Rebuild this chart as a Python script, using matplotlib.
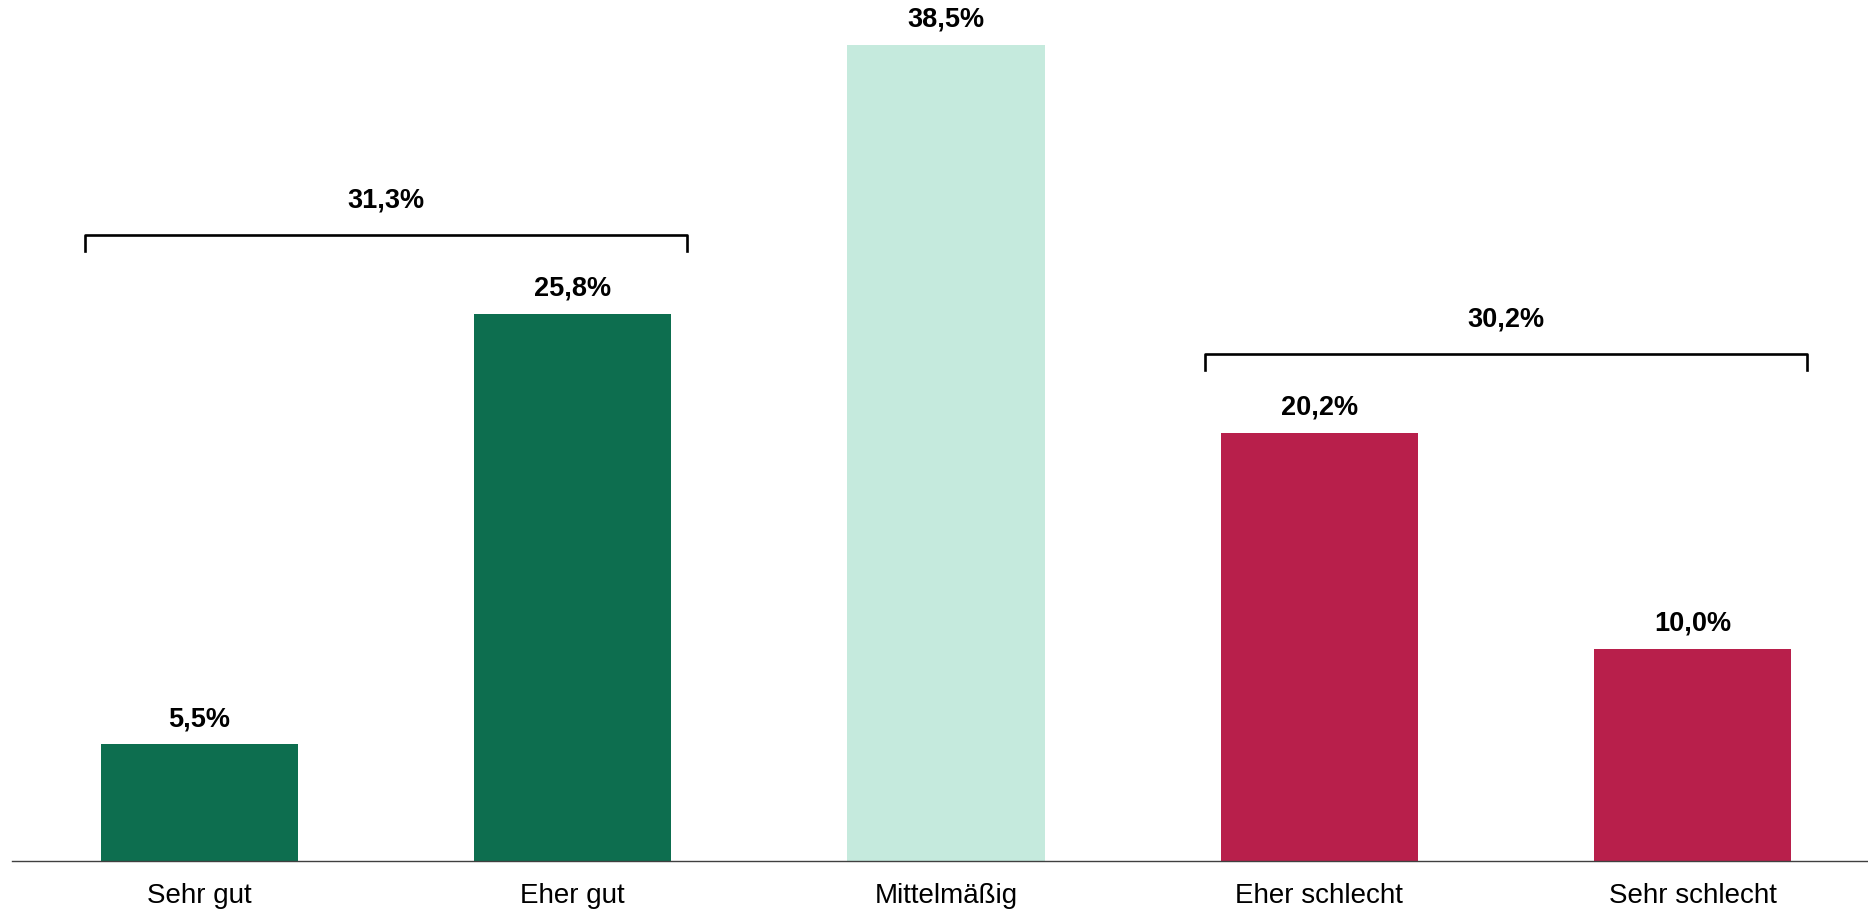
import matplotlib
matplotlib.use("Agg")
import matplotlib.pyplot as plt

plt.rcParams['font.family'] = ['Liberation Sans', 'DejaVu Sans']

categories = ["Sehr gut", "Eher gut", "Mittelmäßig", "Eher schlecht", "Sehr schlecht"]
values = [5.5, 25.8, 38.5, 20.2, 10.0]
value_labels = ["5,5%", "25,8%", "38,5%", "20,2%", "10,0%"]
bar_colors = ["#0d6e4f", "#0d6e4f", "#c5eadd", "#b81f4b", "#b81f4b"]

# grouped totals shown above brackets: (first index, last index, label)
groups = [(0, 1, "31,3%"), (3, 4, "30,2%")]

fig = plt.figure(figsize=(18.68, 9.14), dpi=100)
ax = fig.add_axes([12 / 1868, 0.058, 1 - 12 / 1868, 0.942])

x = list(range(len(categories)))
bar_width = 0.528
ax.bar(x, values, width=bar_width, color=bar_colors, zorder=2)

for xi, v, lab in zip(x, values, value_labels):
    ax.annotate(lab, (xi, v), xytext=(0, 18), textcoords="offset points",
                ha="center", va="center", fontsize=19.5, fontweight="bold")

for i0, i1, lab in groups:
    top = max(values[i0:i1 + 1]) + 3.7
    drop = 0.75
    x0 = x[i0] - 0.306
    x1 = x[i1] + 0.306
    ax.plot([x0, x0, x1, x1], [top - drop, top, top, top - drop],
            color="black", lw=1.9, solid_joinstyle="round", zorder=3)
    ax.annotate(lab, ((x0 + x1) / 2, top), xytext=(0, 25), textcoords="offset points",
                ha="center", va="center", fontsize=19.5, fontweight="bold")

ax.set_xlim(-0.502, 4.47)
ax.set_ylim(0, 40.6)
ax.set_xticks(x)
ax.set_xticklabels(categories, fontsize=20)
ax.tick_params(axis="x", length=0, pad=15.5)
ax.set_yticks([])
for side in ["top", "right", "left"]:
    ax.spines[side].set_visible(False)
ax.spines["bottom"].set_color("#404040")
ax.spines["bottom"].set_linewidth(1.0)

fig.savefig("out.png", dpi=100)
